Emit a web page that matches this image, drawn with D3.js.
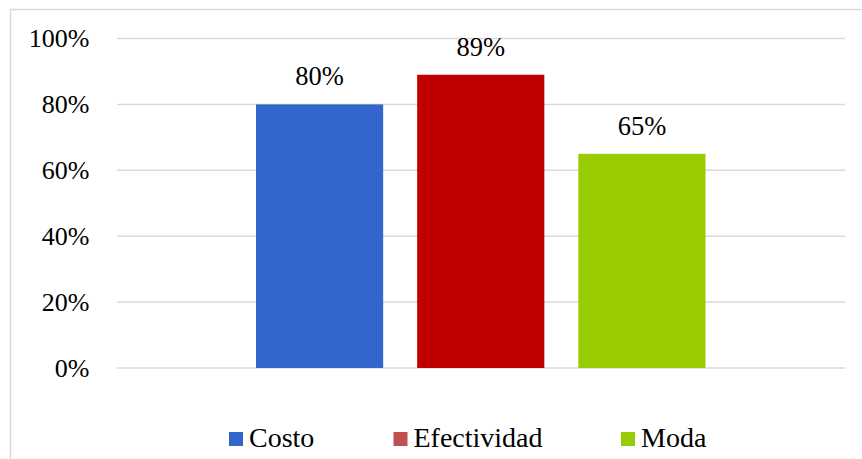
<!DOCTYPE html>
<html>
<head>
<meta charset="utf-8">
<script src="https://cdn.jsdelivr.net/npm/d3@7/dist/d3.min.js"></script>
<style>
  html, body { margin: 0; padding: 0; background: #fff; }
  svg { display: block; }
</style>
</head>
<body>
<svg id="chart" width="862" height="459"></svg>
<script>
// Series shown as side-by-side bars
const series = ["Costo", "Efectividad", "Moda"];
const values = [0.80, 0.89, 0.65];
const yTicks = [0, 0.2, 0.4, 0.6, 0.8, 1.0];

// Fill colours for bars and legend swatches
const barColors = ["#3366CC", "#C00000", "#99CC00"];
const swatchColors = ["#3366CC", "#C0504D", "#99CC00"];

const FONT = "'Liberation Serif', 'Times New Roman', serif";

const svg = d3.select("#chart");
const W = 862, H = 459;

// chart-area frame
svg.append("rect")
  .attr("x", 10.5).attr("y", 9.5)
  .attr("width", W + 10).attr("height", H + 10)
  .attr("fill", "#fff")
  .attr("stroke", "#d9d9d9").attr("stroke-width", 1.5);

const plot = { left: 117, right: 845, top: 38.5, bottom: 368 };

const y = d3.scaleLinear().domain([0, 1]).range([plot.bottom, plot.top]);
const x = d3.scaleBand()
  .domain(series)
  .range([256, 705.5])
  .paddingInner(0.211)
  .paddingOuter(0);

// horizontal gridlines
svg.append("g")
  .selectAll("line")
  .data(yTicks)
  .join("line")
  .attr("x1", plot.left).attr("x2", plot.right)
  .attr("y1", d => y(d)).attr("y2", d => y(d))
  .attr("stroke", "#d9d9d9").attr("stroke-width", 1.5);

// y axis tick labels
const yAxis = d3.axisLeft(y)
  .tickValues(yTicks)
  .tickFormat(d3.format(".0%"))
  .tickSize(0)
  .tickPadding(0);
const yg = svg.append("g")
  .attr("transform", `translate(89.5,0)`)
  .call(yAxis);
yg.select(".domain").remove();
yg.selectAll("text")
  .style("font-family", FONT)
  .style("font-size", "26px")
  .attr("fill", "#000");

// bars
svg.append("g")
  .selectAll("rect")
  .data(series)
  .join("rect")
  .attr("x", d => x(d))
  .attr("width", x.bandwidth())
  .attr("y", (d, i) => y(values[i]))
  .attr("height", (d, i) => y(0) - y(values[i]))
  .attr("fill", (d, i) => barColors[i]);

// value labels above bars
svg.append("g")
  .selectAll("text")
  .data(series)
  .join("text")
  .attr("x", d => x(d) + x.bandwidth() / 2)
  .attr("y", (d, i) => y(values[i]) - 19)
  .attr("text-anchor", "middle")
  .style("font-family", FONT)
  .style("font-size", "26.5px")
  .attr("fill", "#000")
  .text((d, i) => d3.format(".0%")(values[i]));

// legend
const legendX = [229, 393.5, 621];
const lg = svg.append("g");
series.forEach((s, i) => {
  lg.append("rect")
    .attr("x", legendX[i]).attr("y", 432)
    .attr("width", 14).attr("height", 14)
    .attr("fill", swatchColors[i]);
  lg.append("text")
    .attr("x", legendX[i] + 20).attr("y", 447)
    .style("font-family", FONT)
    .style("font-size", "28px")
    .attr("fill", "#000")
    .text(s);
});
</script>
</body>
</html>
